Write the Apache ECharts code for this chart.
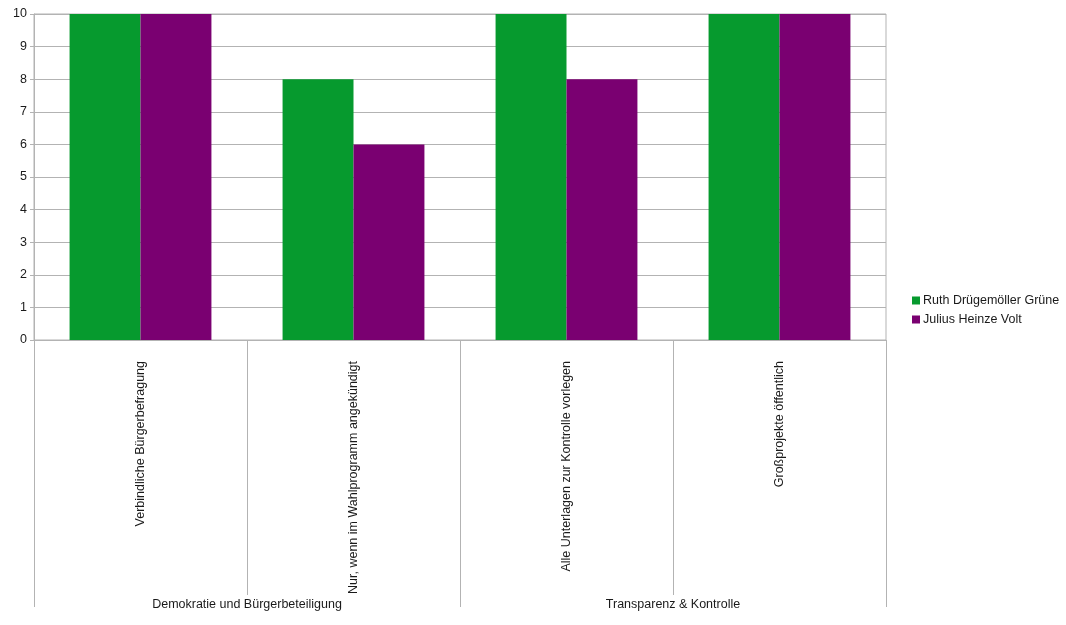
<!DOCTYPE html>
<html>
<head>
<meta charset="utf-8">
<script src="https://cdn.jsdelivr.net/npm/echarts@6/dist/echarts.min.js"></script>
<style>
  html, body { margin: 0; padding: 0; background: #fff; }
  #chart { width: 1066px; height: 625px; }
</style>
</head>
<body>
<div id="chart"></div>
<script>
// Fragen (Kategorien) und Themengruppen
const categories = [
  'Verbindliche Bürgerbefragung',
  'Nur, wenn im Wahlprogramm angekündigt',
  'Alle Unterlagen zur Kontrolle vorlegen',
  'Großprojekte öffentlich'
]
const groups = ['Demokratie und Bürgerbeteiligung', 'Transparenz & Kontrolle']

const seriesNames = ['Ruth Drügemöller Grüne', 'Julius Heinze Volt']
const ruthValues = [10, 8, 10, 10]
const juliusValues = [10, 6, 8, 10]

const yTicks = [0, 10, 1] // min, max, interval

const gridColor = '#b3b3b3'
const fontSize = 12.5
const textStyle = { color: '#1a1a1a', fontFamily: 'Liberation Sans', fontSize: fontSize }

var myChart = echarts.init(document.getElementById('chart'), null, { renderer: 'canvas' })

var option = {
  animation: false,
  backgroundColor: '#ffffff',
  textStyle: textStyle,
  grid: {
    left: 34,
    right: 180,
    top: 14,
    bottom: 285,
    show: true,
    borderColor: gridColor,
    borderWidth: 1
  },
  legend: {
    orient: 'vertical',
    left: 907,
    top: 289,
    itemWidth: 8,
    itemHeight: 8,
    itemGap: 6,
    icon: 'rect',
    data: seriesNames,
    textStyle: Object.assign({}, textStyle, { padding: [0, 0, 0, -2] })
  },
  xAxis: [
    {
      type: 'category',
      data: categories,
      position: 'bottom',
      boundaryGap: true,
      axisLine: { show: true, lineStyle: { color: gridColor } },
      axisTick: {
        show: true,
        interval: 0,
        length: 255,
        lineStyle: { color: gridColor }
      },
      axisLabel: {
        interval: 0,
        rotate: 90,
        margin: 21,
        color: '#1a1a1a',
        fontFamily: 'Liberation Sans',
        fontSize: fontSize
      },
      splitLine: { show: false }
    },
    {
      type: 'category',
      data: groups,
      position: 'bottom',
      offset: 255,
      boundaryGap: true,
      axisLine: { show: false },
      axisTick: {
        show: true,
        interval: 0,
        length: 12,
        lineStyle: { color: gridColor }
      },
      axisLabel: {
        interval: 0,
        margin: 3,
        color: '#1a1a1a',
        fontFamily: 'Liberation Sans',
        fontSize: fontSize
      },
      splitLine: { show: false }
    }
  ],
  yAxis: {
    type: 'value',
    min: yTicks[0],
    max: yTicks[1],
    interval: yTicks[2],
    axisLine: { show: true, lineStyle: { color: gridColor } },
    axisTick: { show: true, length: 4, lineStyle: { color: gridColor } },
    axisLabel: {
      margin: 7,
      color: '#1a1a1a',
      fontFamily: 'Liberation Sans',
      fontSize: fontSize
    },
    splitLine: { show: true, lineStyle: { color: gridColor, type: 'solid' } }
  },
  series: [
    {
      name: seriesNames[0],
      type: 'bar',
      xAxisIndex: 0,
      data: ruthValues,
      barGap: '0%',
      barCategoryGap: '33.4%',
      itemStyle: { color: '#069a2e' }
    },
    {
      name: seriesNames[1],
      type: 'bar',
      xAxisIndex: 0,
      data: juliusValues,
      barGap: '0%',
      barCategoryGap: '33.4%',
      itemStyle: { color: '#7a0071' }
    }
  ]
}

option && myChart.setOption(option)
</script>
</body>
</html>
